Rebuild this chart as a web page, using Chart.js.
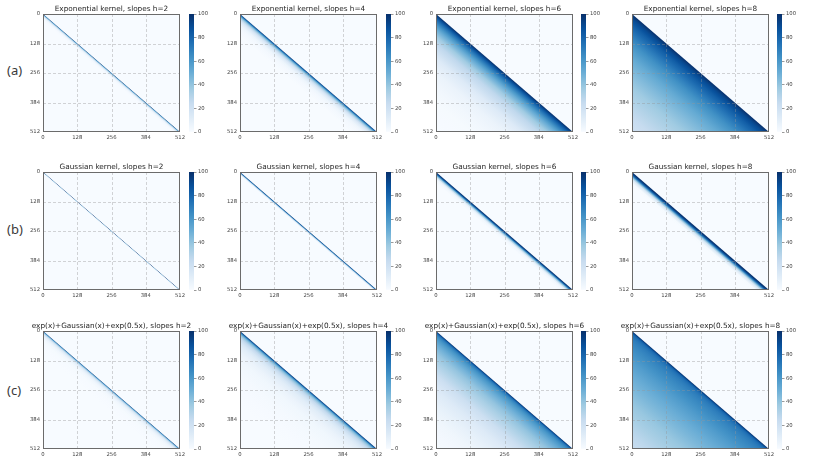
<!DOCTYPE html>
<html>
<head>
<meta charset="utf-8">
<script src="https://cdn.jsdelivr.net/npm/chart.js@4.4.1/dist/chart.umd.min.js"></script>
<style>
  body { margin: 0; background: #fff; width: 830px; height: 467px; position: relative; overflow: hidden; }
  canvas { position: absolute; }
  .lab { position: absolute; font: 13px 'Noto Sans', sans-serif; color: #3a3a3a; }
</style>
</head>
<body>
<div class="lab" style="left:7px;top:61px">(a)</div>
<div class="lab" style="left:7px;top:220px">(b)</div>
<div class="lab" style="left:7px;top:381px">(c)</div>
<script>
// matrix size and the distances (row - col) where the kernel value was read
const SIZE = 512;
const DIST = [0, 2, 4, 8, 12, 16, 24, 32, 48, 64, 96, 128, 192, 256, 320, 384, 448, 512];

// value (0-100) of each kernel at the distances above
const expH2 = [100, 65, 42, 18, 8, 3, 0.5, 0, 0, 0, 0, 0, 0, 0, 0, 0, 0, 0];
const expH4 = [100, 88, 78, 60, 46, 36, 22, 13, 5, 2, 0, 0, 0, 0, 0, 0, 0, 0];
const expH6 = [100, 98, 96, 92, 88, 84, 77, 71, 60, 51, 37, 27, 13, 6, 3, 1, 0.5, 0];
const expH8 = [100, 99, 98, 96, 94, 92, 89, 87, 82, 78, 70, 63, 52, 44, 37, 31, 25, 20];

const gaussH2 = [100, 40, 8, 0, 0, 0, 0, 0, 0, 0, 0, 0, 0, 0, 0, 0, 0, 0];
const gaussH4 = [100, 85, 60, 20, 4, 0, 0, 0, 0, 0, 0, 0, 0, 0, 0, 0, 0, 0];
const gaussH6 = [100, 98, 93, 78, 58, 38, 12, 3, 0, 0, 0, 0, 0, 0, 0, 0, 0, 0];
const gaussH8 = [100, 100, 98, 92, 82, 68, 38, 15, 1, 0, 0, 0, 0, 0, 0, 0, 0, 0];

const mixH2 = [100, 70, 50, 30, 18, 12, 6, 3, 1, 0.5, 0, 0, 0, 0, 0, 0, 0, 0];
const mixH4 = [100, 92, 80, 62, 50, 42, 32, 25, 16, 11, 6, 3.5, 1.5, 0.5, 0, 0, 0, 0];
const mixH6 = [100, 96, 88, 78, 72, 68, 63, 59, 53, 48, 40, 34, 22, 13, 8, 4, 2, 1];
const mixH8 = [100, 97, 92, 84, 79, 76, 73, 71, 68, 66, 62, 58, 51, 45, 39, 34, 28, 23];

const PANELS = [
  [expH2, expH4, expH6, expH8],
  [gaussH2, gaussH4, gaussH6, gaussH8],
  [mixH2, mixH4, mixH6, mixH8]
];
const KERNEL_NAMES = ['Exponential kernel', 'Gaussian kernel', 'exp(x)+Gaussian(x)+exp(0.5x)'];
const SLOPES = [2, 4, 6, 8];

const AXIS_TICKS = [0, 128, 256, 384, 512];
const CBAR_TICKS = [0, 20, 40, 60, 80, 100];
const CBAR_MAX = 100;

// layout
const COL_LEFT = [43, 240, 436, 632];
const CBAR_LEFT = [189, 386, 581, 777];
const ROW_TOP = [14, 172, 331];
const PLOT_W = 137, PLOT_H = 118;
const SIDE = 32;
const FONT = 'DejaVu Sans';

// matplotlib "Blues"
const BLUES = ['#f7fbff', '#deebf7', '#c6dbef', '#9ecae1', '#6baed6', '#4292c6', '#2171b5', '#08519c', '#08306b'];
const rgbOf = h => [1, 3, 5].map(i => parseInt(h.substr(i, 2), 16));

function blues(v) {
  const t = Math.min(Math.max(v / CBAR_MAX, 0), 1) * (BLUES.length - 1);
  const i = Math.min(Math.floor(t), BLUES.length - 2);
  const f = t - i;
  const a = rgbOf(BLUES[i]), b = rgbOf(BLUES[i + 1]);
  const c = a.map((x, k) => Math.round(x + (b[k] - x) * f));
  return `rgb(${c[0]},${c[1]},${c[2]})`;
}

// gradient that runs perpendicular to the diagonal, so colour depends on row - col
function kernelFill(profile) {
  return (ctx) => {
    const chart = ctx.chart;
    const area = chart.chartArea;
    if (!area) return BLUES[0];
    const xs = chart.scales.x, ys = chart.scales.y;
    const gx = -SIZE / area.width, gy = SIZE / area.height;
    const g2 = gx * gx + gy * gy;
    const x0 = xs.getPixelForValue(SIZE / 2), y0 = ys.getPixelForValue(SIZE / 2);
    const t = SIZE / g2;
    const grad = chart.ctx.createLinearGradient(x0, y0, x0 + t * gx, y0 + t * gy);
    DIST.forEach((d, i) => grad.addColorStop(d / SIZE, blues(profile[i])));
    return grad;
  };
}

function cbarFill(ctx) {
  const area = ctx.chart.chartArea;
  if (!area) return BLUES[0];
  const grad = ctx.chart.ctx.createLinearGradient(0, area.bottom, 0, area.top);
  BLUES.forEach((c, i) => grad.addColorStop(i / (BLUES.length - 1), c));
  return grad;
}

// background of the matrix, dashed grid on top of it, grey frame
const frame = {
  id: 'frame',
  beforeDatasetsDraw(chart) {
    const { ctx, chartArea: a } = chart;
    ctx.save();
    ctx.fillStyle = BLUES[0];
    ctx.fillRect(a.left, a.top, a.width, a.height);
    ctx.restore();
  },
  afterDatasetsDraw(chart) {
    const { ctx, chartArea: a, scales } = chart;
    ctx.save();
    ctx.strokeStyle = 'rgba(150,150,150,0.5)';
    ctx.lineWidth = 0.8;
    ctx.setLineDash([3, 2]);
    AXIS_TICKS.slice(1, -1).forEach(v => {
      const px = Math.round(scales.x.getPixelForValue(v)) + 0.5;
      const py = Math.round(scales.y.getPixelForValue(v)) + 0.5;
      ctx.beginPath();
      ctx.moveTo(px, a.top); ctx.lineTo(px, a.bottom);
      ctx.moveTo(a.left, py); ctx.lineTo(a.right, py);
      ctx.stroke();
    });
    ctx.restore();
  },
  afterDraw(chart) {
    const { ctx, chartArea: a } = chart;
    ctx.save();
    ctx.setLineDash([]);
    ctx.strokeStyle = '#6b6b6b';
    ctx.lineWidth = 1;
    ctx.strokeRect(Math.round(a.left) + 0.5, Math.round(a.top) + 0.5, Math.round(a.width) - 1, Math.round(a.height) - 1);
    ctx.restore();
  }
};

function addCanvas(left, top, w, h) {
  const cv = document.createElement('canvas');
  cv.width = w; cv.height = h;
  cv.style.left = left + 'px'; cv.style.top = top + 'px';
  document.body.appendChild(cv);
  return cv;
}

const tickFont = { family: FONT, size: 5.3 };
const noGrid = { display: false, drawTicks: false };

PANELS.forEach((row, r) => {
  row.forEach((profile, c) => {
    const cv = addCanvas(COL_LEFT[c] - SIDE, ROW_TOP[r] - 14, PLOT_W + 2 * SIDE, PLOT_H + 26);
    new Chart(cv, {
      type: 'line',
      data: {
        datasets: [{
          data: [{ x: 0, y: 0 }, { x: SIZE, y: SIZE }],
          fill: { value: SIZE },
          backgroundColor: kernelFill(profile),
          borderWidth: 0,
          pointRadius: 0
        }]
      },
      options: {
        responsive: false,
        animation: false,
        plugins: {
          legend: { display: false },
          tooltip: { enabled: false },
          title: {
            display: true,
            text: `${KERNEL_NAMES[r]}, slopes h=${SLOPES[c]}`,
            color: '#262626',
            font: { family: FONT, size: 7.3, weight: 'normal', lineHeight: 1 },
            padding: { top: 5.2, bottom: 1.5 }
          }
        },
        scales: {
          x: {
            type: 'linear', min: 0, max: SIZE,
            afterBuildTicks: s => { s.ticks = AXIS_TICKS.map(v => ({ value: v })); },
            afterFit: s => { s.height = 12; s.paddingLeft = 0; s.paddingRight = 0; },
            ticks: { font: tickFont, color: '#444', padding: 2.5, maxRotation: 0, autoSkip: false },
            grid: noGrid,
            border: { display: false }
          },
          y: {
            type: 'linear', min: 0, max: SIZE, reverse: true,
            afterBuildTicks: s => { s.ticks = AXIS_TICKS.map(v => ({ value: v })); },
            afterFit: s => { s.width = SIDE; s.paddingTop = 0; s.paddingBottom = 0; },
            ticks: { font: tickFont, color: '#444', padding: 3, autoSkip: false },
            grid: noGrid,
            border: { display: false }
          },
          // empty right axis, only keeps the plot centred under the title
          pad: {
            type: 'linear', position: 'right',
            afterFit: s => { s.width = SIDE; s.paddingTop = 0; s.paddingBottom = 0; },
            ticks: { display: false },
            grid: noGrid,
            border: { display: false }
          }
        }
      },
      plugins: [frame]
    });

    const cb = addCanvas(CBAR_LEFT[c], ROW_TOP[r] - 4, 5 + 16, PLOT_H + 8);
    new Chart(cb, {
      type: 'bar',
      data: {
        labels: [''],
        datasets: [{ data: [CBAR_MAX], backgroundColor: cbarFill, borderWidth: 0, barPercentage: 1, categoryPercentage: 1 }]
      },
      options: {
        responsive: false,
        animation: false,
        layout: { padding: { top: 4, bottom: 4 } },
        plugins: { legend: { display: false }, tooltip: { enabled: false } },
        scales: {
          x: { display: false },
          y: {
            position: 'right', min: 0, max: CBAR_MAX,
            afterBuildTicks: s => { s.ticks = CBAR_TICKS.map(v => ({ value: v })); },
            afterFit: s => { s.width = 16; s.paddingTop = 0; s.paddingBottom = 0; },
            ticks: { font: tickFont, color: '#444', padding: 1.5, autoSkip: false },
            grid: { drawOnChartArea: false, drawTicks: true, tickLength: 2.5, tickColor: '#555', tickWidth: 0.6 },
            border: { display: false }
          }
        }
      }
    });
  });
});
</script>
</body>
</html>
